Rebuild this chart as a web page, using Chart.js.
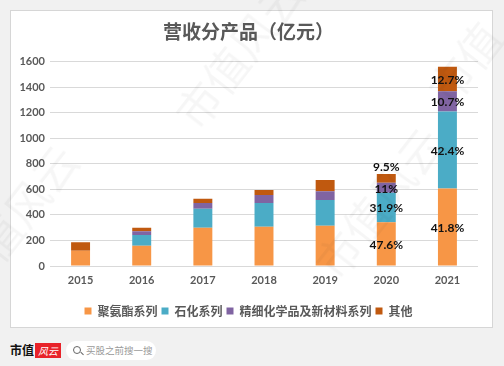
<!DOCTYPE html>
<html>
<head>
<meta charset="utf-8">
<script src="https://cdn.jsdelivr.net/npm/chart.js@4"></script>
<style>
  html, body { margin: 0; padding: 0; }
  body { width: 504px; height: 366px; background: #f1f1f1; position: relative; overflow: hidden; font-family: "Noto Sans CJK SC", sans-serif; }
  #card { position: absolute; left: 10px; top: 10px; width: 481px; height: 316px; background: #fff; border: 1px solid #d6d6d6; }
  #wrap { position: absolute; left: 0; top: 0; width: 481px; height: 316px; }
  .wm { position: absolute; color: rgba(0,0,0,0.035); font-size: 44px; font-family: "Noto Sans CJK SC"; transform: rotate(-52deg); white-space: nowrap; pointer-events: none; }
  #brand { position: absolute; left: 10px; top: 341px; font-weight: bold; font-size: 12px; color: #111; font-family: "Noto Sans CJK SC"; line-height: 18px; }
  #logo { position: absolute; left: 35px; top: 343px; width: 26px; height: 15px; background: #e8232a; color: #fff; font-size: 10px; line-height: 15px; text-align: center; font-style: italic; }
  #search { position: absolute; left: 66px; top: 341px; width: 90px; height: 19px; background: #fff; border-radius: 10px; font-size: 9.5px; color: #9a9a9a; line-height: 19px; }
  #search .ico { position: absolute; left: 7px; top: 5px; width: 6px; height: 6px; border: 1.3px solid #666; border-radius: 50%; }
  #search .ico:after { content: ""; position: absolute; left: 6px; top: 6px; width: 4px; height: 1.3px; background: #666; transform: rotate(45deg); }
  #search span { position: absolute; left: 20px; }
</style>
</head>
<body>
<div id="card"><div id="wrap"><canvas id="revChart"></canvas></div></div>
<div id="brand">市值</div>
<div id="logo">风云</div>
<div id="search"><div class="ico"></div><span>买股之前搜一搜</span></div>
<div class="wm" style="left:150px;top:20px;">市值风云</div>
<div class="wm" style="left:290px;top:170px;">市值风云</div>
<div class="wm" style="left:-40px;top:170px;">值风云</div>
<div class="wm" style="left:420px;top:30px;">市值</div>
<script>
const years = ['2015', '2016', '2017', '2018', '2019', '2020', '2021'];
const seriesNames = ['聚氨酯系列', '石化系列', '精细化学品及新材料系列', '其他'];
const polyurethane = [120, 159, 300, 307, 315, 343, 607];
const petrochem = [0, 83, 148, 187, 203, 230, 604];
const fineChem = [0, 31, 46, 63, 68, 79, 159];
const others = [67, 26, 32, 39, 88, 69, 192];
const polyurethanePct = ['', '', '', '', '', '47.6%', '41.8%'];
const petrochemPct = ['', '', '', '', '', '31.9%', '42.4%'];
const fineChemPct = ['', '', '', '', '', '11%', '10.7%'];
const othersPct = ['', '', '', '', '', '9.5%', '12.7%'];
const yTicks = [0, 200, 400, 600, 800, 1000, 1200, 1400, 1600];

const colors = ['#f79646', '#4bacc6', '#8064a2', '#c0590f'];
const pctLabels = [polyurethanePct, petrochemPct, fineChemPct, othersPct];
const numFont = 'Lato, "Liberation Sans", sans-serif';

// percentage labels drawn inside the segments (top one goes above if the segment is thin)
const pctPlugin = {
  id: 'pctPlugin',
  afterDatasetsDraw(chart) {
    const ctx = chart.ctx;
    ctx.save();
    ctx.font = 'bold 12px ' + numFont;
    ctx.fillStyle = '#111';
    ctx.textAlign = 'center';
    ctx.textBaseline = 'middle';
    chart.data.datasets.forEach((ds, di) => {
      const meta = chart.getDatasetMeta(di);
      meta.data.forEach((bar, i) => {
        const txt = pctLabels[di][i];
        if (!txt) return;
        const top = Math.min(bar.y, bar.base);
        const h = Math.abs(bar.base - bar.y);
        let y = top + h / 2;
        if (di === chart.data.datasets.length - 1 && h < 10) y = top - 8;
        ctx.fillText(txt, bar.x, y + 1);
      });
    });
    ctx.restore();
  }
};

const ctx = document.getElementById('revChart').getContext('2d');
const revChart = new Chart(ctx, {
  type: 'bar',
  data: {
    labels: years,
    datasets: [polyurethane, petrochem, fineChem, others].map((d, i) => ({
      label: seriesNames[i],
      data: d,
      backgroundColor: colors[i],
      borderWidth: 0,
      categoryPercentage: 0.62,
      barPercentage: 0.5
    }))
  },
  plugins: [pctPlugin],
  options: {
    responsive: true,
    maintainAspectRatio: false,
    animation: false,
    layout: { padding: { left: 8, right: 14, top: 0, bottom: 0 } },
    plugins: {
      tooltip: { enabled: false },
      title: {
        display: true,
        text: '营收分产品（亿元）',
        color: '#595959',
        font: { size: 19, weight: 'bold', family: '"Noto Sans CJK SC"' },
        padding: { top: 9, bottom: 19 }
      },
      legend: {
        position: 'bottom',
        labels: {
          boxWidth: 7,
          boxHeight: 7,
          padding: 4,
          color: '#595959',
          font: { size: 12, weight: 'bold', family: '"Noto Sans CJK SC"' }
        }
      }
    },
    scales: {
      x: {
        stacked: true,
        grid: { display: false },
        border: { display: false },
        afterFit: (scale) => { scale.height = 35; },
        ticks: { color: '#595959', font: { size: 11, weight: 'bold', family: numFont }, padding: 0 }
      },
      y: {
        stacked: true,
        min: 0,
        max: 1600,
        afterBuildTicks: (scale) => { scale.ticks = yTicks.map(v => ({ value: v })); },
        afterFit: (scale) => { scale.width = 31; },
        grid: { color: '#d9d9d9', drawTicks: false },
        border: { display: false },
        ticks: {
          color: '#595959',
          font: { size: 11, weight: 'bold', family: numFont },
          padding: 5,
          callback: (v) => String(v)
        }
      }
    }
  }
});
</script>
</body>
</html>
